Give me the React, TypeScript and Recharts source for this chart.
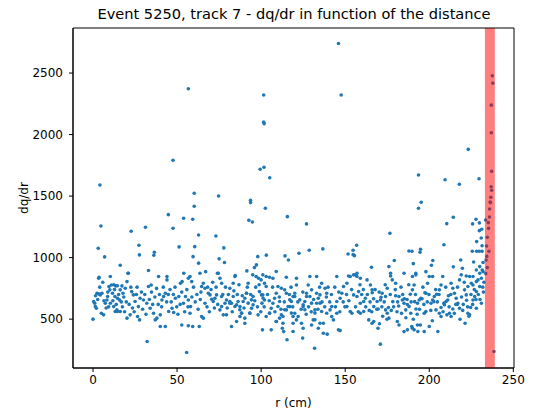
import React from "react";
import { ScatterChart, Scatter, XAxis, YAxis, ReferenceArea } from "recharts";

const chartTitle = "Event 5250, track 7 - dq/dr in function of the distance";
const xTicks = [0, 50, 100, 150, 200, 250];
const yTicks = [500, 1000, 1500, 2000, 2500];
const xDomain = [-11.9, 250.4];
const yDomain = [103, 2866];
const spanStart = 233.1;
const spanEnd = 239.0;

// high / low outliers [r, dq/dr]
const outlierPoints: [number, number][] = [
  [4.1,1590],[4.7,1257],[3.1,1076],[6.9,1006],[22.7,1214],[31.2,1247],[27.3,1101],[27.6,1022],[36.5,1044],[36.2,1019],
  [44.8,1349],[47.6,1791],[47.6,1239],[51.2,1087],[53.9,1320],[59.3,1312],[60.2,1523],[60.2,1417],[60.5,1089],[62.8,1184],
  [59.5,1008],[62.8,955],[56.7,2372],[73.1,1176],[74.7,1501],[75,990],[77.8,1079],[78.2,960],[92.7,1304],[94.8,1290],
  [93.7,1466],[93.7,1447],[98,1008],[97.2,941],[96,919],[99.4,1718],[101.7,1734],[101.5,2321],[101.5,2101],[101.8,2088],
  [102.5,1401],[103.1,1020],[105.1,1649],[114.2,1014],[116.2,981],[115.6,1333],[122.5,1036],[127,1274],[128.6,1060],[136.7,1071],
  [146,2740],[147.6,2321],[151.7,1030],[154.7,1024],[154.7,1060],[156.8,1101],[155.5,1016],[165.6,922],[176.6,1198],[179.2,976],
  [187.9,1054],[189.7,1052],[190.5,951],[193.6,1671],[193.6,1401],[195.2,1450],[194.8,1068],[194.5,1044],[201.3,938],[202.1,976],
  [208.7,1105],[209.4,1633],[210.4,1276],[214.3,1328],[214.3,925],[217.9,1596],[218.7,981],[219.7,914],[223.2,1880],[225.8,1274],
  [227.8,1312],[229.8,1282],[229.8,1219],[231.2,1230],[229.6,1641],[225.6,1052],[228.2,1052],[229.8,1052],[231.4,1052],[226.4,965],
  [230.9,1160],[231.4,1097],[228.2,1130],[228,900],[230,927],
  [32.2,318],[55.7,229],[115.4,332],[124.7,346],[131.8,264],[139.3,378],[170.9,297],[100.8,413],[112.6,426],[113.4,399],
  [146,413],[147,407],[185,399],[187,413],[190,426],[191,413],[197,399],[40,440],[52.8,453],[59.3,440],
  [63.2,440],[43,440],[56.7,446],[124,467],[125,426],[134,426],[135,467],[169.5,426],[221.3,467],[193.2,400],[205.1,400],
];

// points inside the highlighted span
const spanPoints: [number, number][] = [
  [237.5,2477],[237.8,2418],[236.9,2239],[236.9,2015],[237.1,1701],[236.8,1576],[237.1,1547],[236.6,1490],[236.4,1447],[236.2,1452],
  [235.9,1395],[233.5,1306],[235.1,1284],[235.3,1238],[234.5,1165],[234.1,1095],[235.5,1052],[238.5,237],[233.8,980],[234.5,920],
  [233.6,870],[234.2,1010],[235.8,1330],
];

// main band of points
const bulkPoints: [number, number][] = [
  [0,500],[0.4,643],[1,629],[1.4,602],[2,589],[3.4,832],[2.4,711],[3.4,705],[4.3,697],[5.3,711],[5,548],[6.3,535],[7.3,629],[8.3,656],[8.7,684],
  [9.5,765],[11,778],[12.4,780],[13.5,770],[14.5,772],[10,738],[11.6,711],[13,684],[14.6,670],[15.8,656],[10.3,629],[12.3,602],[14.2,575],[16.2,562],[13.2,562],
  [14.6,562],[16.2,738],[17.8,711],[19.2,751],[20.2,805],[20.8,873],[20.2,508],[22.1,535],[23,724],[24,697],[25,643],[27,602],[26.5,521],[27.7,494],[28,670],
  [30,656],[32,629],[33,765],[34.6,778],[34,589],[36,548],[37,494],[38,508],[40,535],[41,656],[42,684],[43,711],[44,819],[45,562],[47,589],
  [48,554],[49,670],[51,684],[52,792],[53,805],[53.8,629],[55,684],[56.7,656],[57.7,548],[58,602],[57.7,846],[58.7,805],[63.6,873],[64.6,765],[65.6,792],
  [66.6,751],[64.6,521],[65.6,508],[66.6,629],[68.6,711],[69.6,697],[70.6,662],[71.5,643],[72.5,670],[73.5,697],[74.5,873],[75.5,832],[76.5,792],[75.5,575],[77.5,535],
  [78.5,629],[79.4,656],[81.4,643],[82.4,629],[81.4,751],[83.4,792],[84.4,846],[85.4,616],[87.4,602],[89.3,643],[85.4,481],[87.4,521],[88.4,548],[90.3,670],[91.3,711],
  [92.3,792],[93.3,548],[94.3,589],[95,860],[97,846],[98.5,832],[100,819],[102,792],[103,765],[99,724],[101,697],[102,656],[103,521],[105,548],[106,589],
  [107,629],[108,670],[109,711],[109,481],[111,508],[113,467],[110,765],[112,751],[114,738],[115,575],[117,602],[118,643],[119,684],[120,711],[121,778],
  [119,521],[120,548],[121,494],[125,602],[126,643],[127,684],[128,778],[129,846],[130,738],[130,453],[131,494],[132,575],[133,629],[134,670],[135,697],
  [136,792],[138,751],[139,711],[139,548],[141,575],[142,602],[142,521],[143,494],[145,548],[145,643],[147,670],[148,711],[149,765],[151,792],[153,846],
  [151,602],[153,562],[154,548],[155,697],[157,684],[158,724],[156,860],[157,873],[159,629],[161,643],[162,670],[159,548],[161,562],[163,819],[165,778],
  [166,738],[164,494],[166,467],[167,481],[167,602],[169,643],[171,656],[172,711],[174,684],[175,751],[174,575],[175,548],[176,508],[177,873],[178,819],
  [180,792],[181,481],[182,453],[182,684],[184,656],[185,629],[186,575],[188,602],[189,548],[190,738],[191,778],[192,860],[193,629],[194,656],[195,670],
  [197,548],[198,562],[198,711],[199,792],[200,846],[201,629],[202,656],[203,684],[204,575],[206,548],[207,521],[206,738],[207,778],[208,846],[209,616],
  [210,643],[211,656],[212,548],[213,521],[213,792],[214,751],[215,711],[216,670],[217,629],[218,589],[218,819],[219,860],[221,738],[222,697],[223,765],
  [223,548],[224,535],[224,846],[225,792],[226,778],[226,656],[227,684],[228,724],[228,805],[229,819],[230,765],[230,873],[231,832],[232,886],[228,589],[231,629],
  [3.6,840],[10.3,846],[16.2,938],[21,873],[33,895],[39,846],[44,846],[54,873],[56.7,832],[67,886],[74,873],[84.6,854],[91.5,892],[101,860],[103,846],
  [105,840],[107,832],[109,887],[115,840],[121,832],[133,846],[145,846],[152,851],[155,860],[157,846],[159,832],[176,927],[177,851],[185,873],[190,846],
  [192,873],[198,886],[202,846],[222,851],[226,846],
  [76.5,684],[76.5,603],[79.4,535],[81.4,630],[83.4,684],[84.4,603],[86.3,643],[87.3,576],[88.3,549],[90.3,508],[90.3,467],[91.3,711],[92.3,630],[93.2,549],[94.2,657],
  [95.2,684],[95.2,616],[98.2,535],[100.2,697],[101.2,670],[82.4,440],[105,549],[106,413],[109,481],[110,603],[111,643],[112,535],[113,521],[114,576],[115,711],
  [116,603],[117,657],[118,549],[119,467],[119,400],[120,684],[122,521],[123,657],[125,616],[126,576],[127,711],[129,684],[130,630],[132,549],[132,495],
  [133,711],[135,630],[136,562],[137,467],[137,386],
  [164.3,571],[166.1,714],[166.9,666],[169.6,583],[170.4,463],[171.3,678],[172.3,523],[174.8,499],[175.7,595],[177.4,571],[178.3,642],[180,690],[181.8,607],[183.5,547],[185.2,666],
  [186.1,511],[187,619],[188.7,702],[189.6,440],[190.5,499],[191.3,642],[192.1,583],[193,452],[194.7,452],[195.7,666],[197.4,714],[200,440],[200.9,571],[201.8,487],[202.7,642],
  [204.4,702],[207,595],[208.7,630],[210.5,535],[211.4,690],[214,583],[214.9,547],[216.6,619],[218.3,499],[219.9,571],[222.2,654],[223.6,523],[224.6,595],
  [1.5,690],[2.8,660],[4,760],[5.8,800],[6.5,650],[7.8,590],[8.8,720],[9.3,600],[11.8,650],[12.8,740],[13.8,620],[15.2,700],[16.8,640],[17.5,600],[18.3,680],
  [19.8,640],[18.8,560],[17.2,770],[21.5,620],[22.5,760],[23.5,590],[24.5,560],[25.8,700],[26.2,760],[28.8,720],[29.5,580],[30.8,700],[31.5,540],[33.5,660],[34.8,720],
  [35.5,620],[36.8,680],[37.8,750],[38.8,620],[39.5,700],[40.8,600],[41.8,760],[43.8,640],[44.8,700],[45.8,740],[46.5,640],[47.8,700],[48.8,760],[49.8,600],[50.5,540],
  [51.8,620],[52.8,720],[54.5,560],[55.8,740],[56.5,600],[58.8,680],[59.8,760],[60.8,640],[61.8,700],[62.5,580],[63.8,660],[64.2,720],[67.8,600],[68.2,760],[69.2,560],
  [70.2,740],[71.2,800],[72.2,590],[73.2,760],[74.2,620],[77.2,700],[78.8,760],[79.8,590],[80.5,700],[82.8,560],[83.8,730],[85.8,700],[86.8,780],[88.8,690],[89.8,590],
  [91.8,760],[93.8,700],[96.2,650],[96.8,760],[97.8,600],[98.8,780],[99.8,560],[100.5,630],[101.8,600],[103.8,700],[104.8,650],[106.8,760],[108.2,560],[110.8,680],[111.8,580],
  [113.8,640],[116.8,700],[117.8,760],[118.8,600],[121.8,640],[123.8,580],[124.8,720],[126.8,540],[128.2,600],[129.8,560],[131.2,660],[133.8,580],[134.8,760],[136.2,640],[137.8,600],
  [138.8,680],[139.8,760],[140.8,640],[141.8,700],[143.8,760],[144.2,600],[146.2,720],[146.8,560],[148.8,640],[149.8,600],[150.8,700],[152.2,650],[153.8,740],[156.2,600],[157.8,560],
  [158.8,780],[159.8,700],[160.8,740],[162.2,600],[163.2,700],[164.8,640],[165.8,560],[167.8,740],[168.8,580],[170.2,720],[171.8,600],[173.2,640],[173.8,780],[176.8,700],[178.8,600],
  [179.8,740],[180.8,560],[181.2,640],[183.2,760],[184.2,700],[186.8,660],[187.8,780],[189.2,640],[191.8,700],[192.8,540],[194.2,580],[196.2,760],[196.8,620],[198.8,640],[199.8,700],
  [203.8,740],[204.8,640],[205.8,700],[208.2,560],[209.8,760],[211.8,600],[212.8,700],[215.8,620],[216.8,760],[219.2,680],[220.2,620],[220.8,800],[222.8,600],[224.8,700],[225.8,620],
  [226.8,740],[227.8,660],[229.2,700],[230.2,660],[231.8,760],[232.2,720],[232.5,800],[231.5,900],[232,960],
];

const allPoints = [...bulkPoints, ...outlierPoints, ...spanPoints].map(([r, q]) => ({ r, q }));

const FONT = "'DejaVu Sans', sans-serif";
const tickStyle = { fontSize: 12, fill: "#000", fontFamily: FONT };

const Dot = (props: any) => <circle cx={props.cx} cy={props.cy} r={1.8} fill="#1f77b4" />;

export default function App() {
  return (
    <div style={{ position: "absolute", left: 0, top: 0, width: 540, height: 409, background: "#fff" }}>
      <div
        style={{
          position: "absolute",
          left: 43,
          width: 502,
          top: 5,
          textAlign: "center",
          fontFamily: FONT,
          fontSize: 14.6,
          color: "#000",
          whiteSpace: "nowrap",
        }}
      >
        {chartTitle}
      </div>
      <ScatterChart width={540} height={409} margin={{ top: 28, right: 26, bottom: 0, left: 0 }}>
        <XAxis
          type="number"
          dataKey="r"
          domain={xDomain}
          ticks={xTicks}
          allowDataOverflow
          height={41}
          tickSize={4}
          tickMargin={3}
          stroke="#000"
          tick={tickStyle}
          label={{ value: "r (cm)", position: "insideBottom", offset: 2, style: { fontSize: 12, fill: "#000", fontFamily: FONT } }}
        />
        <YAxis
          type="number"
          dataKey="q"
          domain={yDomain}
          ticks={yTicks}
          allowDataOverflow
          width={73}
          tickSize={4}
          tickMargin={6}
          stroke="#000"
          tick={tickStyle}
          label={{ value: "dq/dr", angle: -90, position: "insideLeft", offset: 24, style: { fontSize: 12, fill: "#000", fontFamily: FONT, textAnchor: "middle" } }}
        />
        <Scatter data={allPoints} shape={Dot} isAnimationActive={false} />
        <ReferenceArea x1={spanStart} x2={spanEnd} y1={yDomain[0]} y2={yDomain[1]} fill="#ff0000" fillOpacity={0.5} stroke="none" ifOverflow="extendDomain" zIndex={700} />
        <ReferenceArea x1={xDomain[0]} x2={xDomain[1]} y1={yDomain[0]} y2={yDomain[1]} fill="none" stroke="#000" strokeWidth={1} ifOverflow="extendDomain" zIndex={800} />
      </ScatterChart>
    </div>
  );
}
